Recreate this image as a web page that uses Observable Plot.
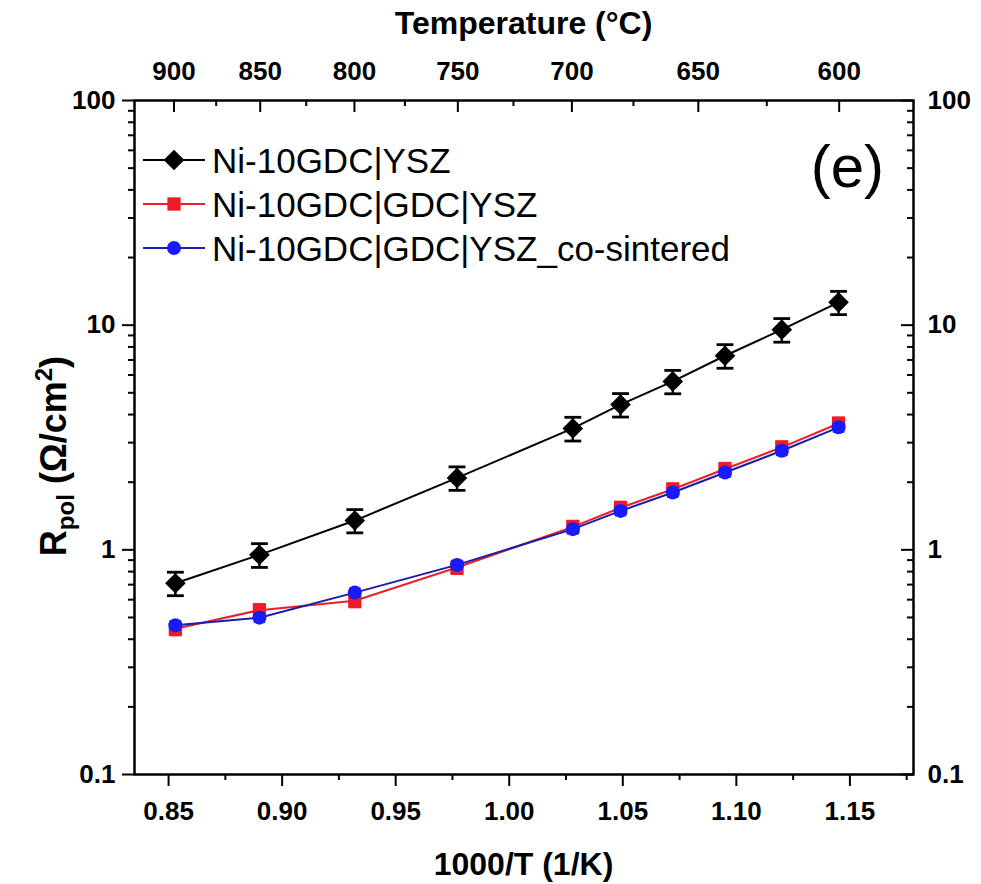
<!DOCTYPE html>
<html><head><meta charset="utf-8">
<script src="https://cdn.jsdelivr.net/npm/d3@7"></script>
<script src="https://cdn.jsdelivr.net/npm/@observablehq/plot@0.6"></script>
<style>body{margin:0;background:#fff;} svg{display:block}</style>
</head><body><div id="chart"></div>
<script>
// ---- data ----
const invT = [0.853, 0.890, 0.932, 0.977, 1.028, 1.049, 1.072, 1.095, 1.120, 1.145];
const rBlack = [0.71, 0.95, 1.35, 2.09, 3.47, 4.43, 5.62, 7.31, 9.55, 12.64];
const eBlack = [0.085, 0.115, 0.16, 0.25, 0.42, 0.53, 0.67, 0.88, 1.15, 1.5];
const rRed = [0.445, 0.539, 0.593, 0.834, 1.266, 1.54, 1.86, 2.29, 2.86, 3.65];
const eRed = [0.027, 0.032, 0.036, 0.05, 0.076, 0.092, 0.11, 0.14, 0.17, 0.22];
const rBlue = [0.462, 0.499, 0.645, 0.857, 1.236, 1.49, 1.80, 2.21, 2.76, 3.51];
const eBlue = [0.018, 0.02, 0.026, 0.034, 0.05, 0.06, 0.072, 0.088, 0.11, 0.14];
const seriesNames = ["Ni-10GDC|YSZ", "Ni-10GDC|GDC|YSZ", "Ni-10GDC|GDC|YSZ_co-sintered"];
const seriesColors = ["#000000", "#ee1c25", "#1a1aff"];
const lineColors = ["#000000", "#e8202a", "#1c1ca8"];
const xTicks = [0.85, 0.90, 0.95, 1.00, 1.05, 1.10, 1.15];
const xMinor = [0.875, 0.925, 0.975, 1.025, 1.075, 1.125, 1.175];
const yTicks = [0.1, 1, 10, 100];
const yMinor = [0.2,0.3,0.4,0.5,0.6,0.7,0.8,0.9,2,3,4,5,6,7,8,9,20,30,40,50,60,70,80,90];
const tempTicks = [900, 850, 800, 750, 700, 650, 600];
const tempMinor = [875, 825, 775, 725, 675, 625];

// ---- layout ----
const W = 981, H = 884, mL = 134, mR = 68, mT = 100, mB = 110;
const innerW = W - mL - mR, innerH = H - mT - mB;
const FONT = "'Liberation Sans', Arial, Helvetica, sans-serif";
const toInv = T => 1000 / (T + 273.15);

const rows = (vals, errs) => invT.map((x, i) => ({x, v: vals[i], lo: vals[i] - errs[i], hi: vals[i] + errs[i]}));
const dBlack = rows(rBlack, eBlack), dRed = rows(rRed, eRed), dBlue = rows(rBlue, eBlue);

const cap = {draw(ctx, size) { const w = Math.sqrt(size) / 2; ctx.moveTo(-w, 0); ctx.lineTo(w, 0); }};

function seriesMarks(d, color, lcolor, symbol, r, capR) {
  return [
    Plot.ruleX(d, {x: "x", y1: "lo", y2: "hi", stroke: color, strokeWidth: 2.4}),
    Plot.dot(d, {x: "x", y: "lo", symbol: cap, r: capR, stroke: color, fill: "none", strokeWidth: 2.8}),
    Plot.dot(d, {x: "x", y: "hi", symbol: cap, r: capR, stroke: color, fill: "none", strokeWidth: 2.8}),
    Plot.line(d, {x: "x", y: "v", stroke: lcolor, strokeWidth: 2}),
    Plot.dot(d, {x: "x", y: "v", symbol, r, fill: color, stroke: "none"})
  ];
}

const plot = Plot.plot({
  width: W, height: H, marginLeft: mL, marginRight: mR, marginTop: mT, marginBottom: mB,
  style: {fontFamily: FONT, background: "white", color: "black"},
  x: {domain: [0.835, 1.178]},
  y: {type: "log", domain: [0.1, 100]},
  marks: [
    // bottom axis
    Plot.axisX(xTicks, {anchor: "bottom", tickSize: 12, tickPadding: 15, tickFormat: d3.format(".2f"),
      fontSize: 26, fontWeight: "bold", strokeWidth: 2, label: null}),
    Plot.axisX(xMinor, {anchor: "bottom", tickSize: 6, tickFormat: () => "", strokeWidth: 2, label: null}),
    // left axis
    Plot.axisY(yTicks, {anchor: "left", tickSize: 12, tickPadding: 7, tickFormat: d => String(d),
      fontSize: 26, fontWeight: "bold", strokeWidth: 2, label: null}),
    Plot.axisY(yMinor, {anchor: "left", tickSize: 6, tickFormat: () => "", strokeWidth: 2, label: null}),
    // top axis (temperature, inward ticks)
    Plot.tickX(tempTicks, {x: toInv, insetBottom: innerH - 12, stroke: "black", strokeWidth: 2}),
    Plot.tickX(tempMinor, {x: toInv, insetBottom: innerH - 6, stroke: "black", strokeWidth: 2}),
    Plot.text(tempTicks, {x: toInv, text: d => String(d), frameAnchor: "top", lineAnchor: "middle", dy: -29,
      fontSize: 26, fontWeight: "bold"}),
    // right axis (inward ticks)
    Plot.tickY(yTicks, {y: d => d, insetLeft: innerW - 12, stroke: "black", strokeWidth: 2}),
    Plot.tickY(yMinor, {y: d => d, insetLeft: innerW - 6, stroke: "black", strokeWidth: 2}),
    Plot.text(yTicks, {y: d => d, text: d => String(d), frameAnchor: "right", dx: 14, textAnchor: "start",
      lineAnchor: "middle", fontSize: 26, fontWeight: "bold"}),
    // data
    ...seriesMarks(dBlack, seriesColors[0], lineColors[0], "diamond2", 9.3, 9.5),
    ...seriesMarks(dRed, seriesColors[1], lineColors[1], "square", 7.5, 7),
    ...seriesMarks(dBlue, seriesColors[2], lineColors[2], "circle", 7, 6.5),
    Plot.frame({stroke: "black", strokeWidth: 2.5})
  ]
});

document.getElementById("chart").appendChild(plot);

// ---- titles, legend, panel label (real SVG text) ----
const svg = d3.select(plot);
const cx = mL + innerW / 2;
svg.append("text").attr("x", cx).attr("y", 34).attr("text-anchor", "middle")
  .attr("font-family", FONT).attr("font-size", 32).attr("font-weight", "bold").text("Temperature (°C)");
svg.append("text").attr("x", cx).attr("y", 875).attr("text-anchor", "middle")
  .attr("font-family", FONT).attr("font-size", 32).attr("font-weight", "bold").text("1000/T (1/K)");

const yl = svg.append("text").attr("transform", `translate(66,${456}) rotate(-90)`).attr("text-anchor", "middle")
  .attr("font-family", FONT).attr("font-size", 36).attr("font-weight", "bold");
yl.append("tspan").text("R");
yl.append("tspan").attr("dy", 8).attr("font-size", 24).text("pol");
yl.append("tspan").attr("dy", -8).text(" (Ω/cm");
yl.append("tspan").attr("dy", -14).attr("font-size", 24).text("2");
yl.append("tspan").attr("dy", 14).text(")");

svg.append("text").attr("x", 884).attr("y", 187).attr("text-anchor", "end")
  .attr("font-family", FONT).attr("font-size", 60).text("(e)");

const legendY = [160, 204, 248];
const symbolsL = [d3.symbolDiamond2, d3.symbolSquare, d3.symbolCircle];
const sizesL = [Math.PI * 9.3 * 9.3, Math.PI * 7.5 * 7.5, Math.PI * 7 * 7];
const lg = svg.append("g").attr("text-anchor", "start");
seriesNames.forEach((name, i) => {
  const y = legendY[i];
  lg.append("line").attr("x1", 143).attr("x2", 205).attr("y1", y).attr("y2", y)
    .attr("stroke", lineColors[i]).attr("stroke-width", 2);
  lg.append("path").attr("d", d3.symbol(symbolsL[i], sizesL[i])()).attr("transform", `translate(174,${y})`)
    .attr("fill", seriesColors[i]);
  lg.append("text").attr("x", 212).attr("y", y).attr("dy", "0.36em").attr("text-anchor", "start")
    .attr("font-family", FONT).attr("font-size", 35).text(name);
});
</script>
</body></html>
